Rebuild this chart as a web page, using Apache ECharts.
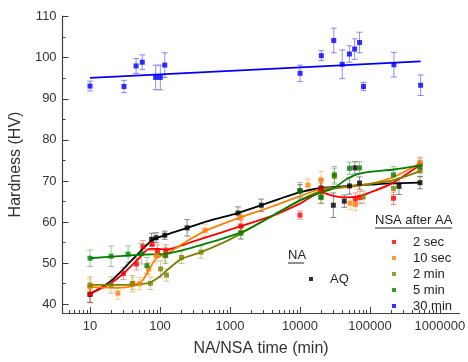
<!DOCTYPE html>
<html><head><meta charset="utf-8">
<script src="https://cdn.jsdelivr.net/npm/echarts@6/dist/echarts.min.js"></script>
<style>html,body{margin:0;padding:0;background:#fff}#c{width:468px;height:362px}</style>
</head><body><div id="c"></div>
<script>
// Tick labels
const xTicks = [10, 100, 1000, 10000, 100000, 1000000];
const yTicks = [40, 50, 60, 70, 80, 90, 100, 110];

// Measured points: [time (min), hardness (HV), error bar half-height]
const aqPts = [[10,42.4,2],[76,55.8,1.5],[88,56.2,1.2],[117,56.8,1],[244,58.6,2],[1300,62.2,1.5],[2800,64.1,1.5],[10000,67.6,1.5],[20000,68.3,2],[30000,64.1,3],[43000,65.1,1.5],[51000,68.8,2],[61000,73.2,1.5],[71000,69.5,1.5],[260000,68.7,2],[520000,69.6,1.5]];
const sec2Pts = [[10,42.5,2],[30,47.5,1.5],[46,49.8,1.5],[57,54,1.5],[77,54.6,1.5],[92,53,1.5],[121,53,1.5],[1430,59,1.5],[10000,61.7,1],[20000,68,1.5],[62000,65.6,1.5],[72000,66,1.5],[217000,65.8,1.5],[520000,74.1,1.5]];
const sec10Pts = [[10,44.2,2],[25,42.7,1.5],[41,45.1,1.5],[51,45,1.5],[69,48.6,1.5],[88,51.8,1.5],[117,51.8,1.5],[440,58,1.5],[1430,61.2,1.5],[13000,69,1.5],[20000,70.3,2],[52000,64.6,1.5],[62000,64.3,1.5],[520000,74.3,1.5]];
const min2Pts = [[10,44.7,2],[20,44.7,2],[40,45,2],[73,45.1,1.5],[102,48.6,2],[124,47.1,1.5],[203,51.4,1.5],[386,52.7,1.5],[1430,57.5,1.5],[20000,66.1,1.5],[31000,71.1,2],[80000,66.1,1.5],[217000,68.2,1.5],[520000,72.5,1.5]];
const min5Pts = [[10,51.2,2],[20,51.7,2.5],[35,52.2,2],[54,52.3,2.5],[65,49.4,2],[120,51.9,2],[1430,57.3,1.5],[10000,67.6,2],[20000,66,1.5],[31000,71.5,2],[51000,73.1,1.5],[71000,73.2,1.5],[217000,71.5,2],[520000,73.5,1.5]];
const min30Pts = [[10,93.1,1.2],[30.6,93,1.5],[45.5,98,1.8],[55.8,98.9,1.8],[86.7,95.2,3],[101,95.2,3],[117,98.2,3],[10050,96.2,2],[20200,100.5,1.2],[30400,104.2,3],[40200,98.4,3.5],[50900,100.9,2],[60400,102.1,2.5],[71100,103.7,2.5],[80900,93,1],[220000,98.3,3],[530000,93.3,2.5]];

// Trend curves: [time (min), hardness (HV)]
const aqCurve = [[10,42.5],[20,45.7],[40,50.8],[76,55.5],[117,56.8],[244,58.6],[500,60.3],[1300,62.2],[2800,64.1],[5000,65.6],[10000,67.3],[20000,68.3],[50000,68.8],[100000,69.1],[200000,69.4],[520000,69.6]];
const sec2Curve = [[10,42.5],[20,45.2],[30,47.5],[50,51.2],[70,53.5],[90,53.5],[120,53.3],[300,55.3],[1430,59],[4000,61.5],[10000,64.5],[20000,67.2],[30000,66.4],[45000,66],[70000,66.3],[100000,67.2],[200000,69.3],[520000,73.9]];
const sec10Curve = [[10,44.2],[25,44],[40,44.4],[55,45.6],[70,48.5],[90,51.3],[135,52.6],[250,55.5],[440,57.8],[1430,61.2],[4000,63.8],[10000,66.3],[20000,68.1],[40000,68.4],[70000,68.8],[200000,70.7],[520000,74.3]];
const min2Curve = [[10,44.7],[40,44.8],[70,45.2],[100,46.8],[130,48.5],[200,51],[386,52.7],[800,55],[1430,57.2],[4000,61.5],[10000,65.3],[20000,67.6],[40000,68.5],[100000,69.3],[220000,70.2],[520000,72.4]];
const min5Curve = [[10,51.2],[30,51.8],[60,52.1],[124,52.3],[400,54.5],[1430,57.5],[4000,61.5],[10000,65.3],[20000,67.2],[30000,68.2],[45000,70.3],[65000,71.6],[100000,72.2],[220000,72.8],[520000,73.8]];
const min30Curve = [[10,95.1],[530000,99.1]];

const names = ['AQ','2 sec','10 sec','2 min','5 min','30 min'];
const colors = ['#000000','#ff0000','#ff8000','#808000','#008000','#0000ff'];
const errColors = ['rgba(0,0,0,0.45)','rgba(255,0,0,0.4)','rgba(255,128,0,0.4)','rgba(128,128,0,0.4)','rgba(0,128,0,0.4)','rgba(0,0,255,0.45)'];
const allPts = [aqPts, sec2Pts, sec10Pts, min2Pts, min5Pts, min30Pts];
const allCurves = [aqCurve, sec2Curve, sec10Curve, min2Curve, min5Curve, min30Curve];

const xMinor = [];
for (let d = 0; d <= 6; d++) for (let k = 2; k <= 9; k++) { const v = k * Math.pow(10, d); if (v > 4.1 && v < 1.9e6) xMinor.push(v); }
const yMinor = [45,55,65,75,85,95,105];

function errRender(params, api) {
  const x = api.value(0), y = api.value(1), e = api.value(2);
  const t = api.coord([x, y + e]), b = api.coord([x, y - e]);
  const w = 3;
  const style = { stroke: api.visual('color'), lineWidth: 1 };
  return { type: 'group', children: [
    { type: 'line', shape: { x1: t[0], y1: t[1], x2: b[0], y2: b[1] }, style },
    { type: 'line', shape: { x1: t[0]-w, y1: t[1], x2: t[0]+w, y2: t[1] }, style },
    { type: 'line', shape: { x1: b[0]-w, y1: b[1], x2: b[0]+w, y2: b[1] }, style }
  ]};
}

const series = [];
for (let i = 0; i < names.length; i++) {
  series.push({ type: 'custom', name: names[i] + ' err', renderItem: errRender, data: allPts[i],
    encode: { x: 0, y: 1 }, itemStyle: { color: errColors[i] }, z: 1, silent: true });
}
for (let i = 0; i < names.length; i++) {
  series.push({ type: 'line', name: names[i] + ' trend', data: allCurves[i], smooth: i === 5 ? false : 0.25,
    showSymbol: false, lineStyle: { color: colors[i], width: 1.8 }, z: 2, silent: true });
}
for (let i = 0; i < names.length; i++) {
  series.push({ type: 'scatter', name: names[i], data: allPts[i].map(p => [p[0], p[1]]),
    symbol: 'rect', symbolSize: 5, itemStyle: { color: colors[i] }, z: 3 });
}

const font = 'Liberation Sans, Arial, sans-serif';
const xBase = { type: 'log', logBase: 10, min: 4.054, max: 1.905e6, gridIndex: 0, position: 'bottom', splitLine: { show: false } };
const yBase = { type: 'value', min: 37.88, max: 110.15, gridIndex: 0, position: 'left', splitLine: { show: false } };

const option = {
  animation: false,
  backgroundColor: '#fff',
  grid: { left: 58, right: 5, top: 16, bottom: 46 },
  xAxis: [
    Object.assign({}, xBase, {
      axisLine: { show: true, lineStyle: { color: '#404040', width: 1.2 } },
      axisTick: { show: true, inside: true, length: 6, customValues: xTicks, lineStyle: { color: '#404040' } },
      axisLabel: { customValues: xTicks, fontSize: 13, color: '#333', margin: 7, fontFamily: font,
        formatter: v => String(Math.round(v)) },
      name: 'NA/NSA time (min)', nameLocation: 'middle', nameGap: 28,
      nameTextStyle: { fontSize: 16, color: '#333', fontFamily: font }
    }),
    Object.assign({}, xBase, {
      axisLine: { show: false },
      axisTick: { show: true, inside: true, length: 3, customValues: xMinor, lineStyle: { color: '#404040' } },
      axisLabel: { show: false }
    })
  ],
  yAxis: [
    Object.assign({}, yBase, {
      axisLine: { show: true, lineStyle: { color: '#404040', width: 1.2 } },
      axisTick: { show: true, inside: true, length: 6, customValues: yTicks, lineStyle: { color: '#404040' } },
      axisLabel: { customValues: yTicks, fontSize: 13, color: '#333', margin: 6, fontFamily: font },
      name: 'Hardness (HV)', nameLocation: 'middle', nameGap: 32,
      nameTextStyle: { fontSize: 16, color: '#333', fontFamily: font }
    }),
    Object.assign({}, yBase, {
      axisLine: { show: false },
      axisTick: { show: true, inside: true, length: 3, customValues: yMinor, lineStyle: { color: '#404040' } },
      axisLabel: { show: false }
    })
  ],
  legend: [
    { data: [{ name: 'AQ', icon: 'rect' }], left: 304, top: 266, orient: 'vertical',
      itemWidth: 4, itemHeight: 4, itemGap: 0,
      textStyle: { fontSize: 13, color: '#222', fontFamily: font, lineHeight: 16, padding: [0, 0, 0, 12] } },
    { data: ['2 sec','10 sec','2 min','5 min','30 min'].map(n => ({ name: n, icon: 'rect' })),
      left: 387, top: 229, orient: 'vertical', itemWidth: 4, itemHeight: 4, itemGap: 0,
      textStyle: { fontSize: 13, color: '#222', fontFamily: font, lineHeight: 16, padding: [0, 0, 0, 12] } }
  ],
  graphic: [
    { type: 'text', left: 375, top: 214, style: { text: 'NSA after AA', fontSize: 13, fill: '#222', font: '13px ' + font } },
    { type: 'line', shape: { x1: 375, y1: 228, x2: 452, y2: 228 }, style: { stroke: '#222', lineWidth: 1 } },
    { type: 'text', left: 288, top: 249, style: { text: 'NA', fontSize: 13, fill: '#222', font: '13px ' + font } },
    { type: 'line', shape: { x1: 288, y1: 263, x2: 304, y2: 263 }, style: { stroke: '#222', lineWidth: 1 } }
  ],
  series
};
echarts.init(document.getElementById('c'), null, { renderer: 'canvas' }).setOption(option);
</script></body></html>
